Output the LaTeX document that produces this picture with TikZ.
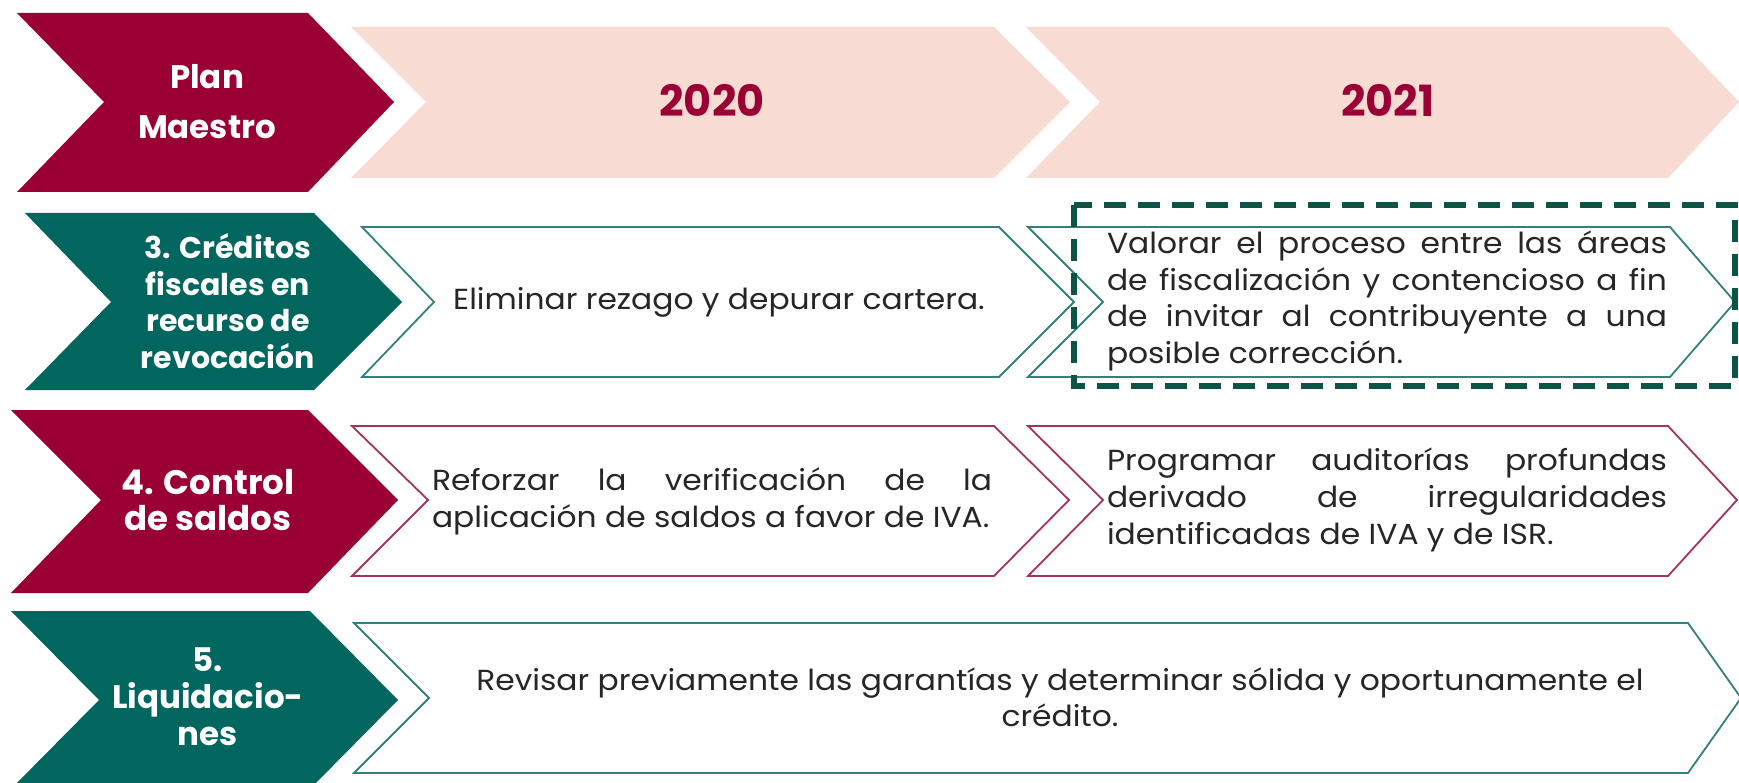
\documentclass[tikz,border=0pt]{standalone}
\usepackage{fontspec}
\setmainfont{Poppins}
\newfontfamily\bodyfont{Poppins}[FakeStretch=1.08]
\tolerance=10000
\hbadness=10000
\definecolor{pmred}{RGB}{155,0,52}
\definecolor{pmteal}{RGB}{0,102,94}
\definecolor{pmpink}{RGB}{248,219,211}
\definecolor{tealline}{RGB}{52,128,122}
\definecolor{redline}{RGB}{166,52,86}
\definecolor{dashgreen}{RGB}{11,84,70}
\definecolor{bodytext}{RGB}{38,38,38}
\newcommand\chevdraw[8]{\path[#1] (#2,#6) -- (#4,#6) -- (#5,#7) -- (#4,#8) -- (#2,#8) -- (#3,#7) -- cycle;}
\tikzset{
  redhead/.style={fill=pmred},
  tealhead/.style={fill=pmteal},
  yearband/.style={fill=pmpink},
  tealbox/.style={draw=tealline,line width=1.8pt,fill=white},
  redbox/.style={draw=redline,line width=1.8pt,fill=white},
  headtext/.style={text=white,font=\bfseries\fontsize{30}{36.5}\selectfont,align=center,inner sep=0pt},
  yeartext/.style={text=pmred,font=\bfseries\fontsize{43}{50}\selectfont,inner sep=0pt},
  bodyjust/.style={text=bodytext,font=\bodyfont\fontsize{29}{36.8}\selectfont,align=justify,text width=560pt,inner sep=0pt},
  bodycenter/.style={text=bodytext,font=\bodyfont\fontsize{29}{36.5}\selectfont,align=center,inner sep=0pt},
  focusframe/.style={draw=dashgreen,line width=6.5pt,dash pattern=on 22pt off 12pt}
}
\begin{document}
\begin{tikzpicture}[x=1pt,y=-1pt]
\useasboundingbox (0,0) rectangle (1739,783);
\clip (0,0) rectangle (1739,783);
% header row
\chevdraw{redhead}{17}{104}{308}{394}{13}{102}{192}
\chevdraw{yearband}{351}{426}{994}{1070}{27}{102}{178}
\chevdraw{yearband}{1026}{1100}{1668}{1739}{27}{102}{178}
\node[headtext,font=\bfseries\fontsize{32.5}{50}\selectfont] (pm) at (207,102) {Plan\\Maestro};
\node[yeartext] (y2020) at (712,100) {2020};
\node[yeartext] (y2021) at (1388,100) {2021};
% row 3
\chevdraw{tealhead}{25}{111}{314}{402}{213}{302}{390}
\chevdraw{tealbox}{362}{434}{999}{1074}{227}{302}{377}
\chevdraw{tealbox}{1028}{1103}{1670}{1735}{227}{302}{377}
\node[headtext] (h3) at (228,301) {3. Créditos\\fiscales en\\recurso de\\revocación};
\node[bodycenter] (t3a) at (719,302) {Eliminar rezago y depurar cartera.};
\node[bodyjust] (t3b) at (1387,301) {Valorar el proceso entre las áreas\linebreak de fiscalización y contencioso a fin\linebreak de invitar al contribuyente a una\linebreak posible corrección.};
\draw[focusframe] (1074,205) rectangle (1735,386);
% row 4
\chevdraw{redhead}{11}{101}{308}{398}{410}{500}{593}
\chevdraw{redbox}{352}{428}{994}{1069}{426}{500}{576}
\chevdraw{redbox}{1028}{1103}{1668}{1737}{426}{500}{576}
\node[headtext,font=\bfseries\fontsize{34}{36.5}\selectfont] (h4) at (208,500) {4. Control\\de saldos};
\node[bodyjust] (t4a) at (712,501) {Reforzar la verificación de la\linebreak aplicación de saldos a favor de IVA.};
\node[bodyjust] (t4b) at (1387,500) {Programar auditorías profundas\linebreak derivado de irregularidades\linebreak identificadas de IVA y de ISR.};
% row 5
\chevdraw{tealhead}{11}{99}{310}{398}{611}{700}{789}
\chevdraw{tealbox}{354}{429}{1688}{1741}{623}{698}{773}
\node[headtext,font=\bfseries\fontsize{32.5}{37}\selectfont] (h5) at (208,697) {5.\\Liquidacio-\\nes};
\node[bodycenter] (t5) at (1060,697) {Revisar previamente las garantías y determinar sólida y oportunamente el\\crédito.};
\end{tikzpicture}
\end{document}
